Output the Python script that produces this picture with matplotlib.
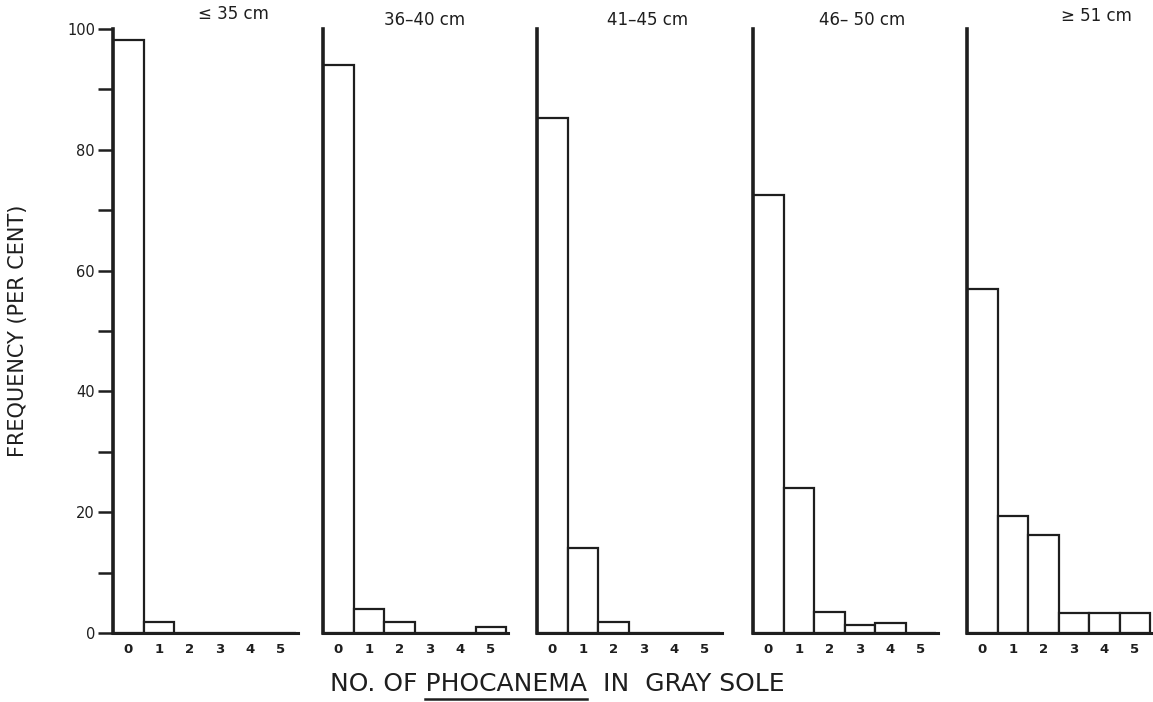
import matplotlib
matplotlib.use("Agg")
import matplotlib.pyplot as plt
from matplotlib.lines import Line2D

plt.rcParams['font.family'] = ['DejaVu Sans']

# data (per cent of fish with n Phocanema)
counts = [0, 1, 2, 3, 4, 5]
size_classes = ['\u2264 35 cm', '36\u201340 cm', '41\u201345 cm', '46\u2013 50 cm', '\u2265 51 cm']
freq_le35 = [98.2, 1.8, 0, 0, 0, 0]
freq_36_40 = [94.0, 4.0, 1.8, 0, 0, 1.0]
freq_41_45 = [85.2, 14.0, 1.8, 0, 0, 0]
freq_46_50 = [72.5, 24.0, 3.4, 1.4, 1.7, 0]
freq_ge51 = [57.0, 19.3, 16.3, 3.3, 3.3, 3.3]
all_freqs = [freq_le35, freq_36_40, freq_41_45, freq_46_50, freq_ge51]

W, H = 1153, 702
ink = '#1e1e1e'

fig = plt.figure(figsize=(W / 100, H / 100), dpi=100)

panel_left = [113, 323, 537, 753, 967]   # pixel x of each y-axis
unit = 30.5                              # pixels per count
xmax = 5.55
y_bot, y_top = 633, 29                   # pixel y for 0 and 100
title_x = [0.65, 0.55, 0.60, 0.59, 0.70]
title_y = [1.01, 1.0, 1.0, 1.0, 1.006]

for i, (lab, fr) in enumerate(zip(size_classes, all_freqs)):
    l = panel_left[i] / W
    w = (xmax + 0.5) * unit / W
    b = (H - y_bot) / H
    h = (y_bot - y_top) / H
    ax = fig.add_axes([l, b, w, h])
    ax.bar(counts, fr, width=1.0, color='white', edgecolor=ink, linewidth=1.6, zorder=2)
    ax.set_xlim(-0.5, xmax)
    ax.set_ylim(0, 100)
    for s in ['top', 'right']:
        ax.spines[s].set_visible(False)
    ax.spines['left'].set_linewidth(2.6)
    ax.spines['bottom'].set_linewidth(2.2)
    ax.spines['left'].set_color(ink)
    ax.spines['bottom'].set_color(ink)
    ax.set_xticks(counts)
    ax.set_xticklabels([str(c) for c in counts], fontsize=9.5, fontweight='bold', color=ink)
    ax.tick_params(axis='x', length=0, pad=7)
    if i == 0:
        ax.set_yticks([0, 20, 40, 60, 80, 100])
        ax.set_yticks([10, 30, 50, 70, 90], minor=True)
        ax.tick_params(axis='y', which='both', direction='out', length=11, width=1.8,
                       color=ink, labelsize=10.5, labelcolor=ink, pad=2)
        ax.set_ylabel('FREQUENCY (PER CENT)', fontsize=15, color=ink, labelpad=28)
    else:
        ax.set_yticks([])
    ax.patch.set_alpha(0)
    ax.text(title_x[i], title_y[i], lab, transform=ax.transAxes, ha='center', va='bottom',
            fontsize=12, color=ink)

# x label with underlined genus name
xl_fs = 18
xl_y = 1 - 684 / H
xl_x = 557 / W
full = 'NO. OF PHOCANEMA  IN  GRAY SOLE'
t = fig.text(xl_x, xl_y, full, ha='center', va='center', fontsize=xl_fs, color=ink)
r = fig.canvas.get_renderer()
bb = t.get_window_extent(renderer=r)
pre = fig.text(0, 0, 'NO. OF ', fontsize=xl_fs)
genus = fig.text(0, 0, 'PHOCANEMA', fontsize=xl_fs)
pw = pre.get_window_extent(renderer=r).width
gw = genus.get_window_extent(renderer=r).width
pre.remove()
genus.remove()
x0 = (bb.x0 + pw) / W
x1 = (bb.x0 + pw + gw) / W
uy = 1 - 699 / H
fig.add_artist(Line2D([x0, x1], [uy, uy], transform=fig.transFigure, color=ink, linewidth=1.8))

fig.savefig('out.png', dpi=100)
